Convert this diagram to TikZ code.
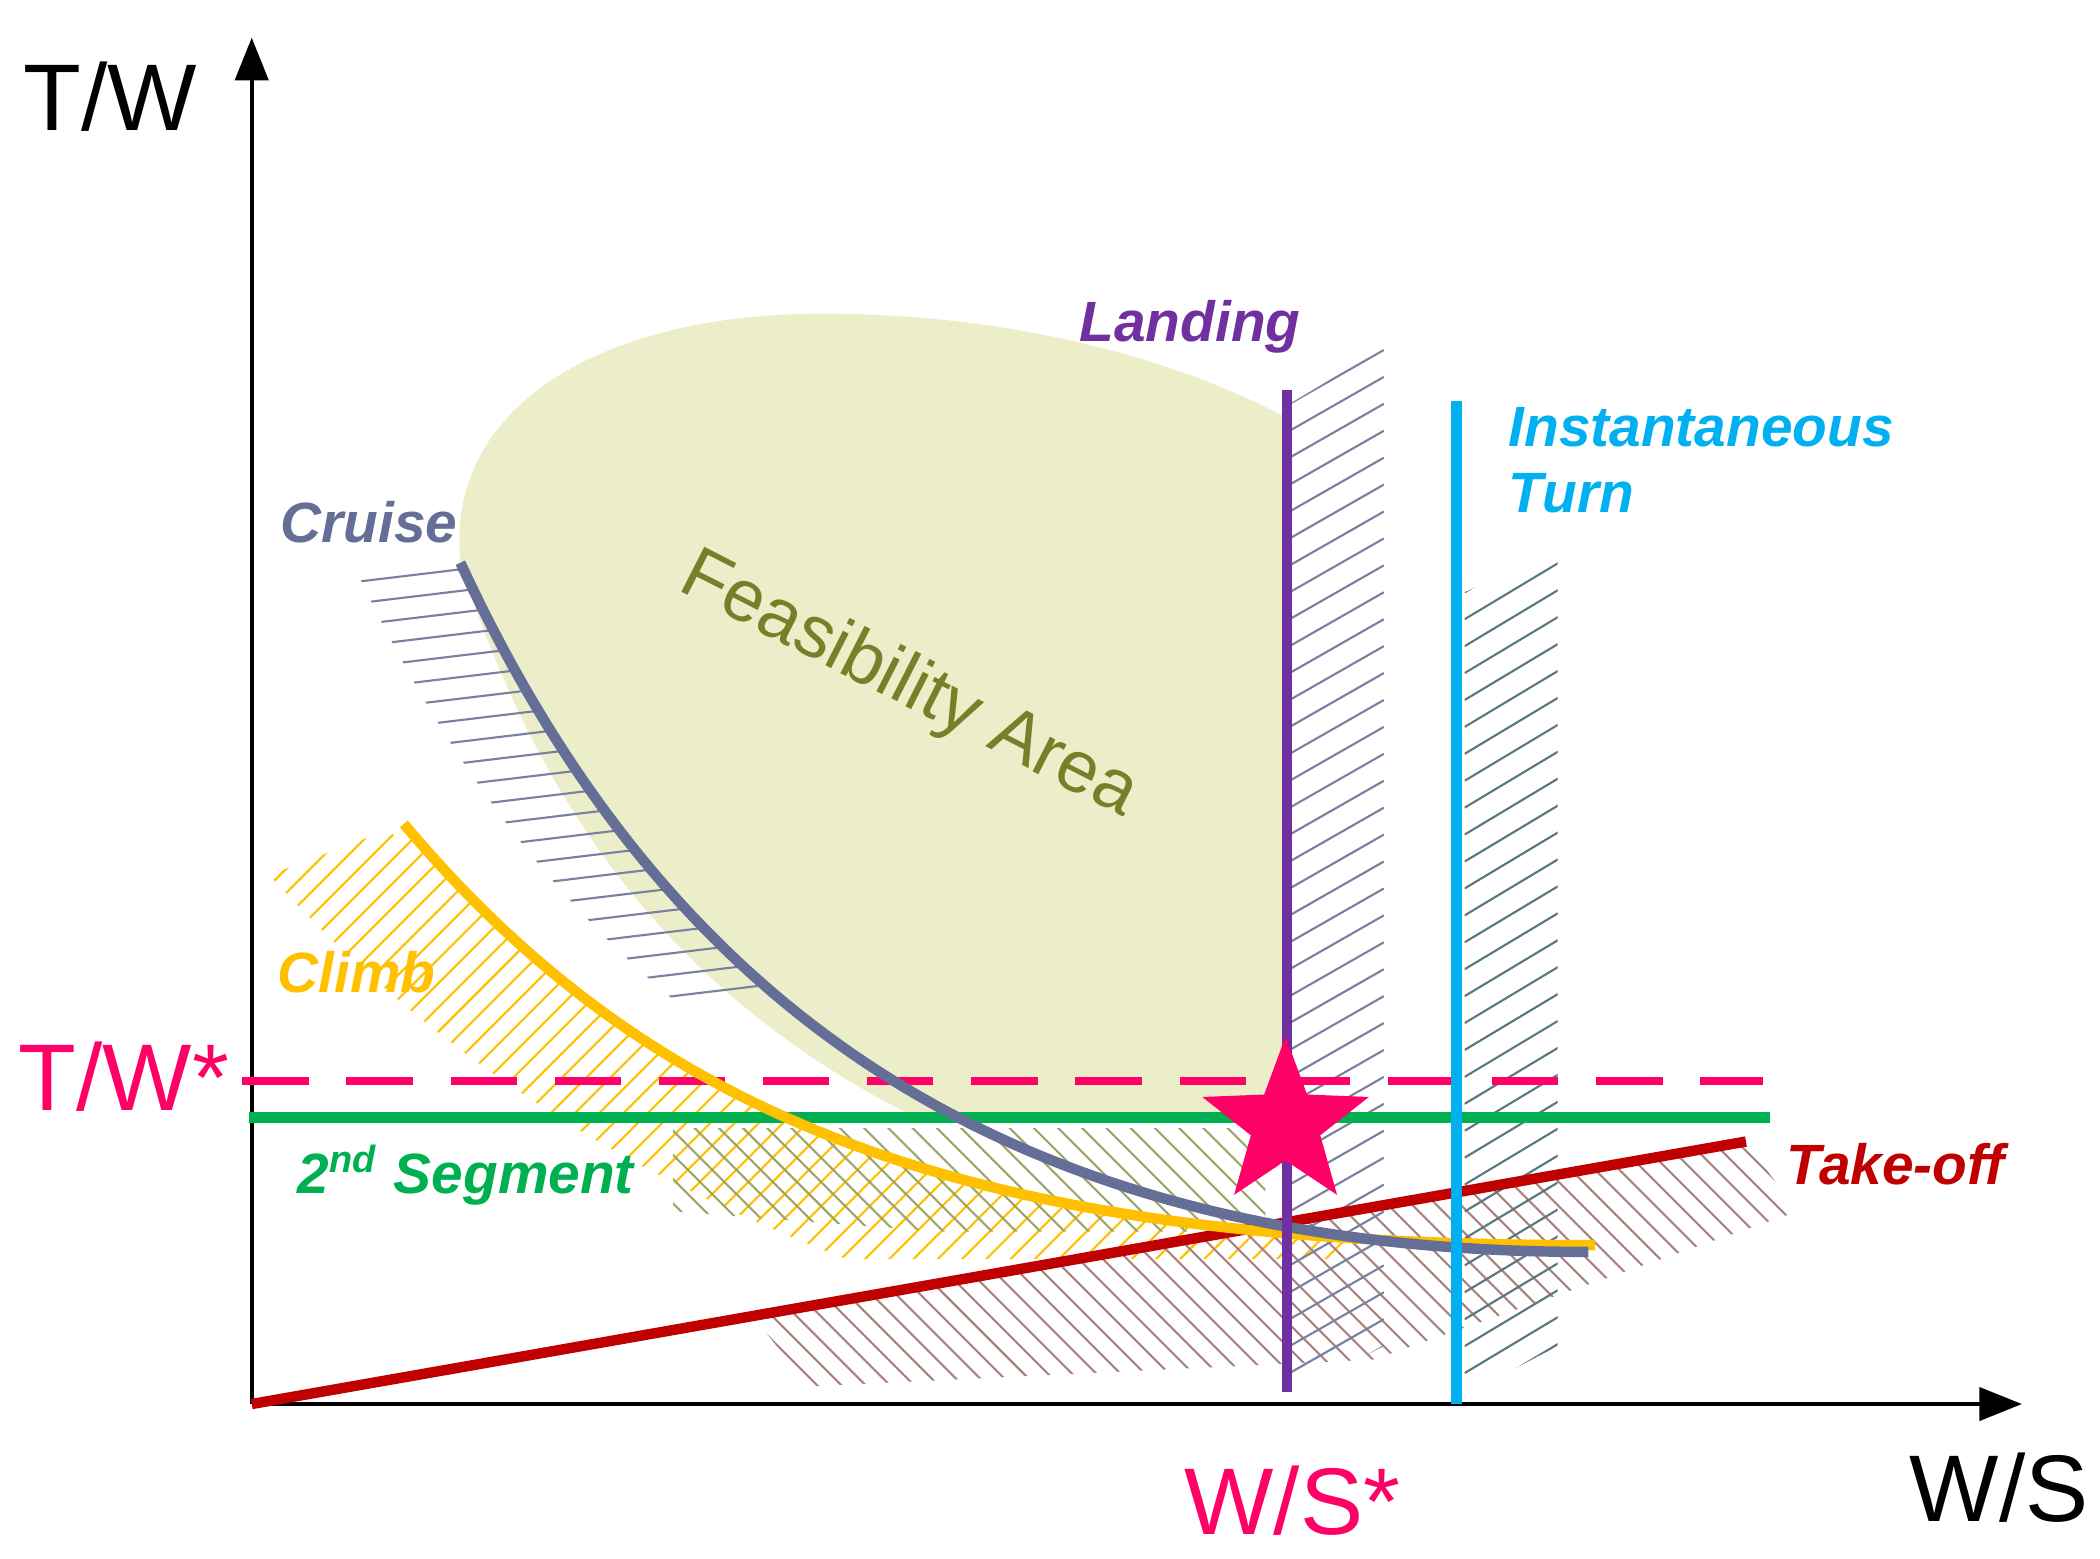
\documentclass[tikz,border=0pt]{standalone}
\usepackage{fontspec}
\setmainfont{Liberation Sans}
\usetikzlibrary{shapes.geometric,arrows.meta}
\definecolor{blob}{RGB}{236,238,202}
\definecolor{cruisec}{RGB}{100,110,150}
\definecolor{climbc}{RGB}{255,192,0}
\definecolor{segc}{RGB}{0,176,80}
\definecolor{tkoc}{RGB}{192,0,0}
\definecolor{landc}{RGB}{112,48,160}
\definecolor{turnc}{RGB}{0,176,240}
\definecolor{pinkc}{RGB}{255,0,102}
\definecolor{olivec}{RGB}{118,128,40}
\definecolor{hgrey}{RGB}{120,130,160}
\definecolor{hbrown}{RGB}{170,130,130}
\definecolor{hteal}{RGB}{90,120,130}
\tikzset{lab/.style={font=\bfseries\itshape\fontsize{12}{14}\selectfont},
 curve/.style={line width=2.2pt},
 hatch/.style={line width=0.45pt}}
\begin{document}
\begin{tikzpicture}[x=0.01cm,y=-0.01cm]
\useasboundingbox (0,0) rectangle (1560,1158);
% feasibility blob
\fill[blob] (342,418) .. controls (330,300) and (450,233) .. (610,233)
  .. controls (760,233) and (880,270) .. (955,310) -- (955,830) -- (680,830)
  .. controls (500,740) and (400,600) .. (342,418) -- cycle;
% cruise hatch
\begin{scope}
\clip (342,418) .. controls (500,760) and (760,930) .. (1180,930) -- (0,930) -- (0,418) -- cycle;
\clip (262,418) .. controls (420,760) and (680,930) .. (1100,930) -- (1100,0) -- (262,0) -- cycle;
\foreach \y in {440,456,...,780} \draw[hatch,hgrey] (200,\y) -- (700,\y-60);
\end{scope}
% climb hatch
\begin{scope}
\clip (300,612) .. controls (500,850) and (750,925) .. (1185,925) -- (1185,960) -- (700,960) .. controls (450,880) and (300,760) .. (200,650) -- cycle;
\clip (0,0) rectangle (1000,935);
\foreach \x in {-300,-282,...,1100} \draw[hatch,climbc] (\x,960) -- ++(340,-340);
\end{scope}
% olive hatch
\begin{scope}
\clip (500,838) -- (940,838) -- (940,915) -- (700,915) -- (500,900) -- cycle;
\foreach \x in {400,418,...,1100} \draw[hatch,olivec!70] (\x,830) -- ++(100,100);
\end{scope}
% take-off hatch
\begin{scope}
\clip (560,978) -- (1297,848) -- (1335,900) -- (1020,1010) -- (600,1030) -- cycle;
\foreach \x in {400,418,...,1400} \draw[hatch,hbrown] (\x,840) -- ++(200,200);
\end{scope}
% landing hatch
\begin{scope}
\clip (958,300) -- (1028,258) -- (1028,1000) -- (958,1035) -- cycle;
\foreach \y in {280,300,...,1100} \draw[hatch,hgrey] (958,\y) -- ++(70,-40);
\end{scope}
% turn hatch
\begin{scope}
\clip (1088,440) -- (1157,408) -- (1157,1000) -- (1088,1036) -- cycle;
\foreach \y in {420,440,...,1100} \draw[hatch,hteal] (1088,\y) -- ++(70,-42);
\end{scope}
% axes
\coordinate (o) at (187,1043);
\coordinate (ytop) at (187,28);
\coordinate (xend) at (1502,1043);
\draw[line width=0.8pt,-{Triangle[length=9pt,width=7pt]}] (o) -- (ytop);
\draw[line width=0.8pt,-{Triangle[length=9pt,width=7pt]}] (o) -- (xend);
% lines
\coordinate (g1) at (185,830); \coordinate (g2) at (1315,830);
\draw[curve,segc] (g1) -- (g2);
\coordinate (p1) at (180,803); \coordinate (p2) at (1310,803);
\draw[pinkc,line width=1.8pt,dash pattern=on 14pt off 8pt] (p1) -- (p2);
\coordinate (t2) at (1297,848);
\draw[curve,tkoc] (o) -- (t2);
\draw[curve,climbc] (300,612) .. controls (500,850) and (750,925) .. (1185,925);
\draw[curve,cruisec] (342,418) .. controls (500,760) and (760,930) .. (1180,930);
\coordinate (l1) at (956,290); \coordinate (l2) at (956,1034);
\draw[curve,landc] (l1) -- (l2);
\coordinate (i1) at (1082,298); \coordinate (i2) at (1082,1043);
\draw[curve,turnc] (i1) -- (i2);
\node[star,star points=5,star point ratio=2.4,fill=pinkc,minimum size=130pt*0.2845,inner sep=0] (star) at (955,835) {};
% labels
\node (tw) at (82,72) {\fontsize{20}{22}\selectfont T/W};
\node (ws) at (1485,1105) {\fontsize{20}{22}\selectfont W/S};
\node[pinkc] (tws) at (92,800) {\fontsize{20}{22}\selectfont T/W*};
\node[pinkc] (wss) at (960,1115) {\fontsize{20}{22}\selectfont W/S*};
\node[lab,landc] (lland) at (884,243) {Landing};
\node[lab,turnc,align=left,anchor=north west,inner sep=0pt] (lturn) at (1120,302) {Instantaneous\\Turn};
\node[lab,cruisec] (lcruise) at (274,388) {Cruise};
\node[lab,climbc] (lclimb) at (265,722) {Climb};
\node[lab,segc] (lseg) at (346,873) {2\textsuperscript{nd} Segment};
\node[lab,tkoc] (ltko) at (1408,865) {Take-off};
\node[olivec,rotate=-27] (feas) at (675,510) {\fontsize{15.5}{18}\selectfont Feasibility Area};
\end{tikzpicture}
\end{document}
